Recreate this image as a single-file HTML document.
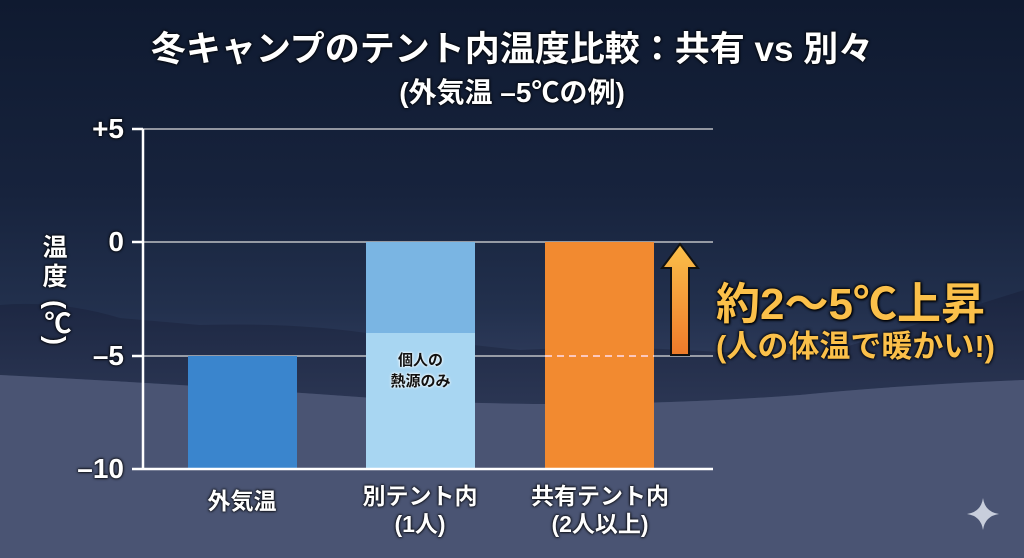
<!DOCTYPE html>
<html><head><meta charset="utf-8"><style>
body{margin:0;width:1024px;height:558px;overflow:hidden;font-family:"Liberation Sans","Noto Sans CJK JP",sans-serif;}
#bg{position:absolute;left:0;top:0;width:1024px;height:558px;background:linear-gradient(180deg,#0f1a30 0%,#17233d 35%,#22304d 55%,#2a3756 62%,#3a4565 72%,#48526f 85%,#4d5774 100%);}
.t{position:absolute;color:#fff;font-weight:bold;white-space:nowrap;text-shadow:0 0 3px #000,0 0 2px #000;}
</style></head><body>
<div id="bg"></div>
<svg width="1024" height="558" style="position:absolute;left:0;top:0">
<defs><linearGradient id="ar" x1="0" y1="0" x2="0" y2="1"><stop offset="0" stop-color="#fbc04a"/><stop offset="1" stop-color="#ee7a2a"/></linearGradient>
<linearGradient id="tr" x1="0" y1="0" x2="0" y2="1"><stop offset="0" stop-color="#1b2540"/><stop offset="1" stop-color="#2a3552"/></linearGradient></defs>
<path d="M0 305 Q60 300 120 318 L200 325 Q300 322 380 335 L520 350 Q620 345 720 352 L820 355 Q900 330 960 310 L1024 290 L1024 380 Q900 385 800 395 Q600 410 400 400 Q200 385 0 375Z" fill="url(#tr)" opacity="0.95"/>
<path d="M0 375 Q200 385 400 400 Q600 410 800 395 Q900 385 1024 380 L1024 558 L0 558Z" fill="#4a5473"/>
<g stroke="#ddd" stroke-width="1.3"><line x1="143" y1="129" x2="713" y2="129"/><line x1="143" y1="242" x2="713" y2="242"/><line x1="143" y1="356" x2="713" y2="356"/></g>
<rect x="188" y="356" width="109" height="113" fill="#3a85cd"/>
<rect x="366" y="242" width="109" height="91" fill="#7ab5e3"/>
<rect x="366" y="333" width="109" height="136" fill="#a8d6f2"/>
<rect x="545" y="242" width="109" height="227" fill="#f28a30"/>
<line x1="545" y1="356" x2="654" y2="356" stroke="#fde" stroke-width="1.5" stroke-dasharray="7,5"/>
<g stroke="#fff" stroke-width="2.5"><line x1="143" y1="129" x2="143" y2="470"/><line x1="132" y1="469" x2="713" y2="469"/>
<line x1="132" y1="129" x2="143" y2="129"/><line x1="132" y1="242" x2="143" y2="242"/><line x1="132" y1="356" x2="143" y2="356"/></g>
<path d="M680 244 L698 268 L689 268 L689 355 L671 355 L671 268 L662 268Z" fill="url(#ar)" stroke="#111" stroke-width="2"/>
<path d="M983 498 Q985 512 999 514 Q985 516 983 530 Q981 516 967 514 Q981 512 983 498Z" fill="#c8cedc"/>
</svg>
<div class="t" style="left:0;width:1024px;text-align:center;top:21px;font-size:35px">冬キャンプのテント内温度比較：共有 vs 別々</div>
<div class="t" style="left:0;width:1024px;text-align:center;top:71px;font-size:28px">(外気温 –5℃の例)</div>
<div class="t" style="right:900px;top:113px;font-size:28px">+5</div>
<div class="t" style="right:900px;top:226px;font-size:28px">0</div>
<div class="t" style="right:900px;top:340px;font-size:28px">–5</div>
<div class="t" style="right:900px;top:453px;font-size:28px">–10</div>
<div class="t" style="left:40px;top:234px;font-size:25px;line-height:29px;width:30px;text-align:center">温<br>度<br><span style="writing-mode:vertical-rl;display:inline-block;margin-top:8px;font-size:27px">(℃)</span></div>
<div class="t" style="left:366px;width:109px;text-align:center;top:350px;font-size:15px;line-height:21px;color:#111;text-shadow:0 0 3px #fff,0 0 2px #fff">個人の<br>熱源のみ</div>
<div class="t" style="left:142px;width:200px;text-align:center;top:482px;font-size:23px">外気温</div>
<div class="t" style="left:320px;width:200px;text-align:center;top:482px;font-size:23px;line-height:28px">別テント内<br>(1人)</div>
<div class="t" style="left:500px;width:200px;text-align:center;top:482px;font-size:23px;line-height:28px">共有テント内<br>(2人以上)</div>
<div class="t" style="left:716px;top:268px;font-size:44px;color:#fbc04a;text-shadow:0 0 3px #000,0 0 3px #000,1px 1px 2px #000">約2〜5℃上昇</div>
<div class="t" style="left:716px;top:321px;font-size:31px;color:#fbc04a;text-shadow:0 0 3px #000,0 0 3px #000">(人の体温で暖かい!)</div>
</body></html>
